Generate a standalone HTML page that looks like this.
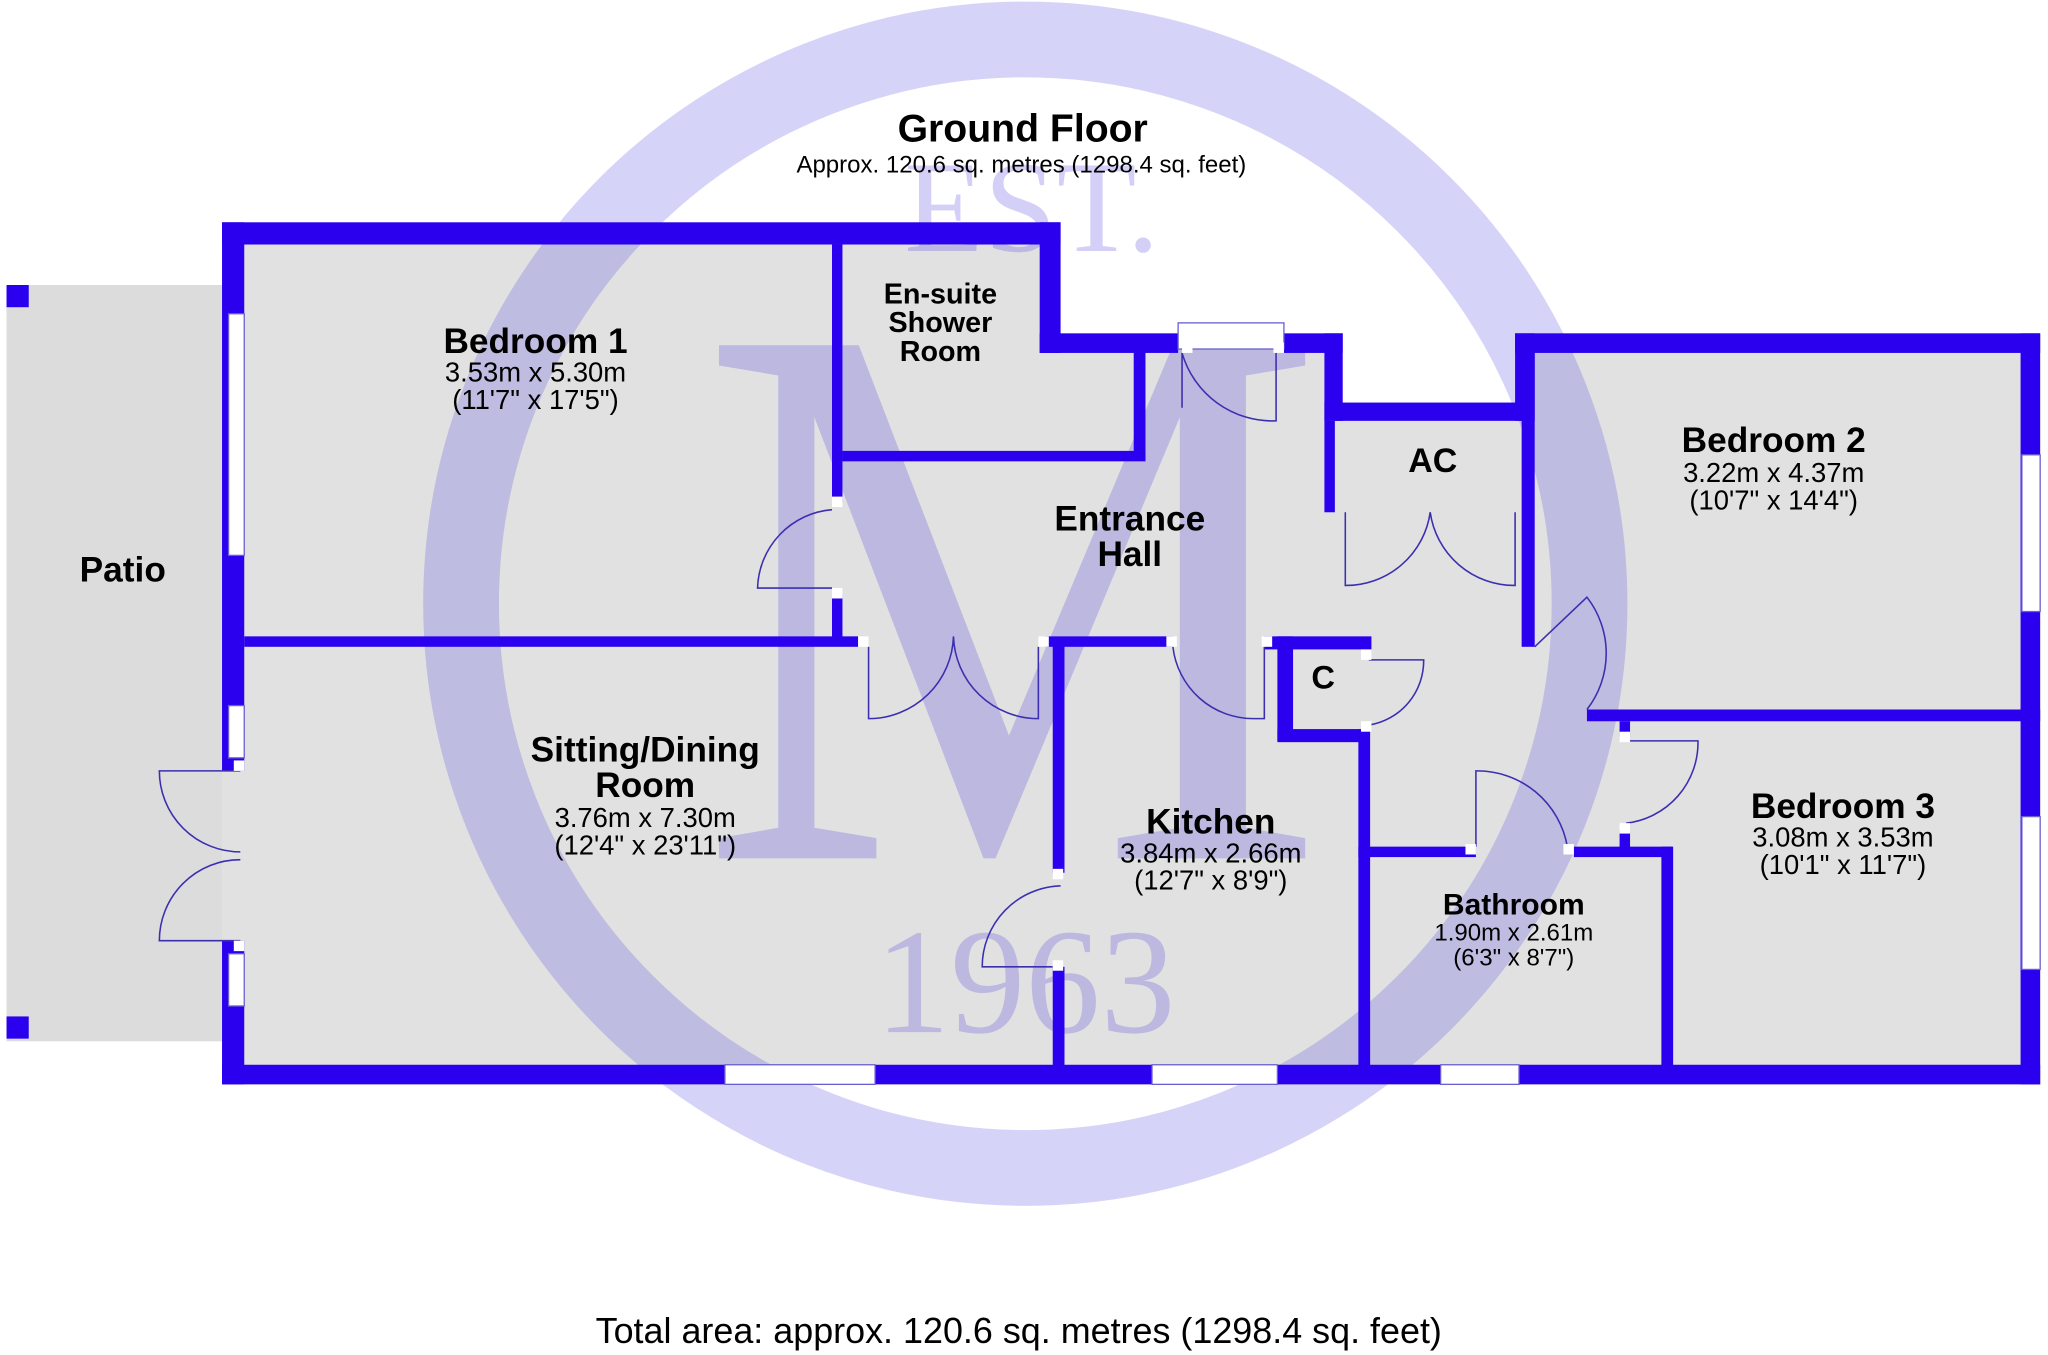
<!DOCTYPE html>
<html><head><meta charset="utf-8"><style>
html,body{margin:0;padding:0;background:#fff;width:2048px;height:1355px;overflow:hidden}
svg{display:block}
.t{font-family:"Liberation Sans",Arial,sans-serif;fill:#000}
.b{font-weight:bold}
.w{font-family:"Liberation Serif","DejaVu Serif",serif;fill:rgba(85,70,225,0.26)}
</style></head><body>
<svg width="2048" height="1355" viewBox="0 0 1568 1037" xmlns="http://www.w3.org/2000/svg">
<!-- patio -->
<rect x="5" y="218" width="165" height="579" fill="#dcdcdc"/>
<rect x="5" y="218" width="17" height="17" fill="#2a00ee"/>
<rect x="5" y="778" width="17" height="17" fill="#2a00ee"/>
<!-- floor -->
<path d="M170,170 L812,170 L812,262 L1028,262 L1028,315 L1160,315 L1160,255 L1562,255 L1562,830 L170,830 Z" fill="#e1e1e1"/>
<!-- watermark -->
<circle cx="785" cy="462" r="432" fill="none" stroke="rgba(85,70,225,0.24)" stroke-width="58"/>
<text class="w" x="790" y="192" font-size="100" text-anchor="middle">EST.</text>
<text class="w" x="0" y="0" font-size="600" text-anchor="middle" transform="translate(775,657) scale(0.9,1)">M</text>
<text class="w" x="785" y="790" font-size="115" text-anchor="middle">1963</text>
<!-- walls -->
<g fill="#2a00ee">
<rect x="170" y="170" width="642" height="17"/>
<rect x="796" y="170" width="16" height="100"/>
<rect x="796" y="255" width="106" height="15"/>
<rect x="983" y="255" width="45" height="15"/>
<rect x="1014" y="255" width="14" height="67"/>
<rect x="1014" y="308" width="160" height="14"/>
<rect x="1160" y="255" width="15" height="67"/>
<rect x="1160" y="255" width="402" height="15"/>
<rect x="1547" y="255" width="15" height="575"/>
<rect x="170" y="815" width="1392" height="15"/>
<rect x="170" y="170" width="17" height="420"/>
<rect x="170" y="720" width="17" height="110"/>
<rect x="637" y="187" width="8" height="198"/>
<rect x="637" y="455" width="8" height="35"/>
<rect x="645" y="345" width="232" height="8"/>
<rect x="868" y="262" width="9" height="90"/>
<rect x="187" y="487" width="470" height="8"/>
<rect x="800" y="487" width="98" height="8"/>
<rect x="968" y="487" width="82" height="10"/>
<rect x="978" y="487" width="12" height="80"/>
<rect x="978" y="558" width="70" height="10"/>
<rect x="806" y="490" width="9" height="178"/>
<rect x="806" y="740" width="9" height="80"/>
<rect x="1040" y="558" width="9" height="262"/>
<rect x="1040" y="648" width="90" height="8"/>
<rect x="1205" y="648" width="75" height="8"/>
<rect x="1272" y="648" width="9" height="170"/>
<rect x="1014" y="322" width="8" height="70"/>
<rect x="1165" y="270" width="10" height="225"/>
<rect x="1215" y="543" width="347" height="9"/>
<rect x="1240" y="552" width="8" height="12"/>
<rect x="1240" y="636" width="8" height="14"/>
</g>
<!-- windows -->
<g fill="#fff" stroke="#6a5fd0" stroke-width="1">
<rect x="902" y="247" width="81" height="20"/>
<rect x="175" y="240" width="12" height="185"/>
<rect x="175" y="540" width="12" height="40"/>
<rect x="175" y="730" width="12" height="40"/>
<rect x="1548" y="348" width="14" height="120"/>
<rect x="1548" y="625" width="14" height="117"/>
<rect x="555" y="815" width="115" height="15"/>
<rect x="882" y="815" width="96" height="15"/>
<rect x="1103" y="815" width="60" height="15"/>
</g>
<!-- doors -->
<g fill="none" stroke="#3b2fb0" stroke-width="1.2">
<path d="M184,590 L122,590 A62,62 0 0 0 184,652 M184,720 L122,720 A62,62 0 0 1 184,658"/>
<path d="M905,270 L905,312 M905,270 A72,72 0 0 0 977,322 L977,270"/>
<path d="M637,390 A62,62 0 0 0 580,450 L637,450"/>
<path d="M665,495 L665,550 A65,65 0 0 0 730,487 A65,65 0 0 0 795,550 L795,495"/>
<path d="M898,495 A62,62 0 0 0 960,550 L968,550 L968,495"/>
<path d="M1048,505 L1090,505 A50,50 0 0 1 1048,555"/>
<path d="M1030,392 L1030,448 A65,65 0 0 0 1095,392 A65,65 0 0 0 1160,448 L1160,392"/>
<path d="M1215,543 A70,70 0 0 0 1215,457 L1175,495"/>
<path d="M1245,567 L1300,567 A62,62 0 0 1 1245,630"/>
<path d="M1130,648 L1130,590 A70,70 0 0 1 1200,648"/>
<path d="M812,678 A62,62 0 0 0 752,740 L806,740"/>
</g>
<g fill="#fff">
<rect x="637" y="380" width="8" height="8"/><rect x="637" y="450" width="8" height="8"/>
<rect x="657" y="487" width="8" height="8"/><rect x="795" y="487" width="8" height="8"/>
<rect x="893" y="487" width="8" height="8"/><rect x="966" y="487" width="8" height="8"/>
<rect x="1042" y="497" width="8" height="8"/><rect x="1042" y="552" width="8" height="8"/>
<rect x="1122" y="646" width="8" height="8"/><rect x="1197" y="646" width="8" height="8"/>
<rect x="1240" y="560" width="8" height="8"/><rect x="1240" y="630" width="8" height="8"/>
<rect x="806" y="665" width="8" height="8"/><rect x="806" y="735" width="8" height="8"/>
<rect x="905" y="262" width="8" height="8"/><rect x="975" y="262" width="8" height="8"/>
<rect x="179" y="582" width="8" height="8"/><rect x="179" y="720" width="8" height="8"/>
</g>
<!-- labels -->
<g class="t">
<text class="b" x="783" y="108" font-size="30" text-anchor="middle">Ground Floor</text>
<text x="782" y="132" font-size="18.4" text-anchor="middle">Approx. 120.6 sq. metres (1298.4 sq. feet)</text>
<text class="b" x="410" y="270" font-size="27" text-anchor="middle">Bedroom 1</text>
<text x="410" y="292" font-size="21" text-anchor="middle">3.53m x 5.30m</text>
<text x="410" y="313" font-size="21" text-anchor="middle">(11'7" x 17'5")</text>
<text class="b" x="720" y="232" font-size="22" text-anchor="middle">En-suite</text>
<text class="b" x="720" y="254" font-size="22" text-anchor="middle">Shower</text>
<text class="b" x="720" y="276" font-size="22" text-anchor="middle">Room</text>
<text class="b" x="865" y="406" font-size="27" text-anchor="middle">Entrance</text>
<text class="b" x="865" y="433" font-size="27" text-anchor="middle">Hall</text>
<text class="b" x="1097" y="361" font-size="26" text-anchor="middle">AC</text>
<text class="b" x="1358" y="346" font-size="27" text-anchor="middle">Bedroom 2</text>
<text x="1358" y="369" font-size="21" text-anchor="middle">3.22m x 4.37m</text>
<text x="1358" y="390" font-size="21" text-anchor="middle">(10'7" x 14'4")</text>
<text class="b" x="94" y="445" font-size="27" text-anchor="middle">Patio</text>
<text class="b" x="1013" y="527" font-size="25" text-anchor="middle">C</text>
<text class="b" x="494" y="583" font-size="27" text-anchor="middle">Sitting/Dining</text>
<text class="b" x="494" y="610" font-size="27" text-anchor="middle">Room</text>
<text x="494" y="633" font-size="21" text-anchor="middle">3.76m x 7.30m</text>
<text x="494" y="654" font-size="21" text-anchor="middle">(12'4" x 23'11")</text>
<text class="b" x="927" y="638" font-size="27" text-anchor="middle">Kitchen</text>
<text x="927" y="660" font-size="21" text-anchor="middle">3.84m x 2.66m</text>
<text x="927" y="681" font-size="21" text-anchor="middle">(12'7" x 8'9")</text>
<text class="b" x="1411" y="626" font-size="27" text-anchor="middle">Bedroom 3</text>
<text x="1411" y="648" font-size="21" text-anchor="middle">3.08m x 3.53m</text>
<text x="1411" y="669" font-size="21" text-anchor="middle">(10'1" x 11'7")</text>
<text class="b" x="1159" y="700" font-size="23" text-anchor="middle">Bathroom</text>
<text x="1159" y="720" font-size="18.4" text-anchor="middle">1.90m x 2.61m</text>
<text x="1159" y="739" font-size="18.4" text-anchor="middle">(6'3" x 8'7")</text>
<text x="780" y="1028" font-size="27.5" text-anchor="middle">Total area: approx. 120.6 sq. metres (1298.4 sq. feet)</text>
</g>
</svg>
</body></html>
